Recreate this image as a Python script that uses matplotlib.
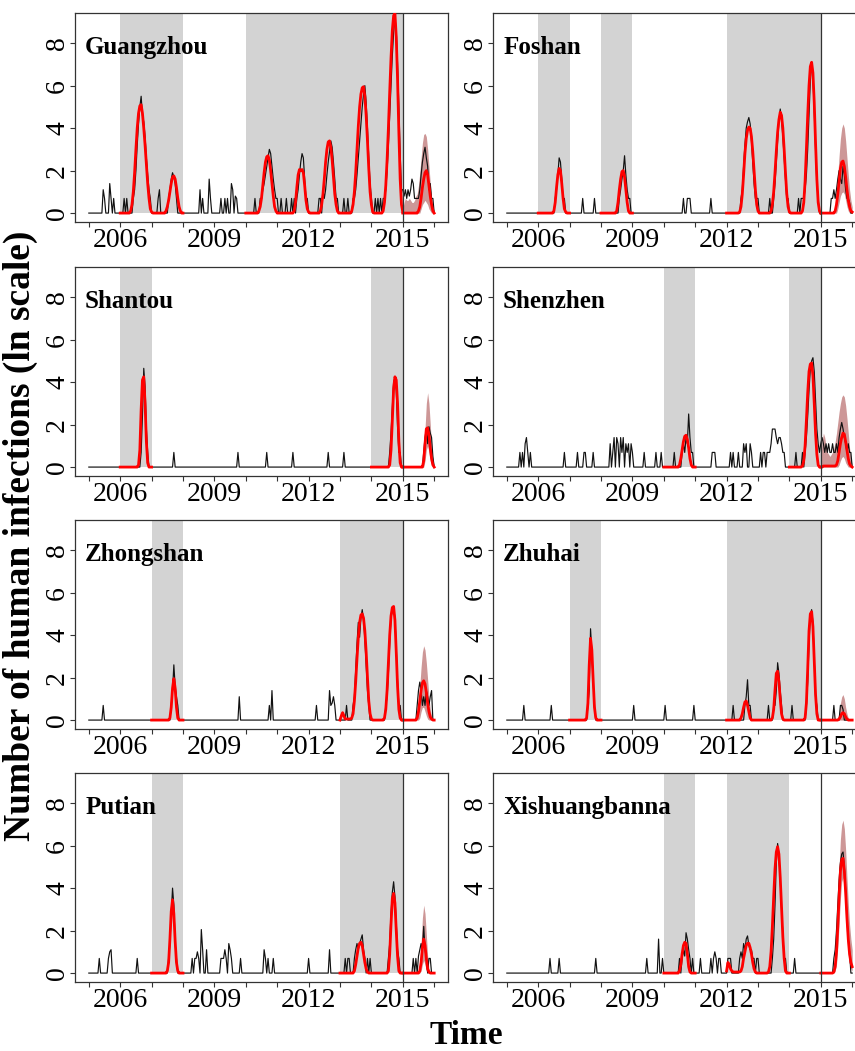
import numpy as np
import matplotlib.pyplot as plt

plt.rcParams['font.family'] = ['Liberation Serif', 'DejaVu Serif']

cities = ['Guangzhou', 'Foshan', 'Shantou', 'Shenzhen',
          'Zhongshan', 'Zhuhai', 'Putian', 'Xishuangbanna']

# half-month time grid, observed series runs from 2005 to 2016
t = 2005 + np.arange(265) / 24
t_fc = 2015 + np.arange(25) / 24

# shaded periods (used for model fitting)
shade_gz = [(2006, 2008), (2010, 2015)]
shade_fs = [(2006, 2007), (2008, 2009), (2012, 2015)]
shade_st = [(2006, 2007), (2014, 2015)]
shade_sz = [(2010, 2011), (2014, 2015)]
shade_zs = [(2007, 2008), (2013, 2015)]
shade_zh = [(2007, 2008), (2012, 2015)]
shade_pt = [(2007, 2008), (2013, 2015)]
shade_xb = [(2010, 2011), (2012, 2014)]

# observed ln(cases + 1): (start year, consecutive half-month values), zero elsewhere
obs_gz = [
    (2005.46, [1.1, 0.69, 0, 0, 0, 1.39, 0.69, 0, 0.69]),
    (2006.12, [0.69, 0, 0.69]),
    (2006.42, [0.69, 1.1, 2.0, 3.2, 4.2, 5.0, 5.5, 4.6, 4.3, 3.6, 2.6, 1.8, 1.1, 0.69]),
    (2007.21, [0.69, 1.1]),
    (2007.54, [0.69, 1.1, 1.6, 1.9, 1.7, 1.39, 0.69]),
    (2008.54, [1.1, 0, 0.69, 0, 0, 0, 0, 1.6, 0.69]),
    (2009.21, [0.69, 0, 0, 0.69, 0, 0.69, 0, 0, 1.39, 1.1, 0, 0.8, 0.69, 0]),
    (2010.29, [0.69, 0, 0, 0, 0.69, 0.69, 1.1, 1.39, 1.79, 2.2, 2.6, 3.0, 2.8, 2.2, 1.6, 1.1, 0.69, 0.69]),
    (2011.12, [0.69, 0, 0, 0, 0.69, 0, 0, 0, 0.69, 0, 0.69, 0, 0.69, 1.1, 1.79, 2.4, 2.8, 2.6, 1.6, 0.69, 0.69]),
    (2012.33, [0.69, 0.69, 0, 1.1, 0.69, 1.1, 1.79, 2.4, 2.9, 3.4, 3.1, 2.4, 1.6, 0.69, 0.69]),
    (2013.12, [0.69, 0, 0, 0.69, 0, 0, 0, 0.69, 0.69, 1.1, 1.8, 2.6, 3.4, 4.2, 5.0, 5.6, 6.0, 5.2, 4.0, 2.6, 1.39, 0.69]),
    (2014.12, [0.69, 0, 0.69, 0, 0.69, 0, 0.69, 0.69, 1.1, 2.0, 3.2, 4.6, 6.0, 7.4, 8.5, 9.2, 8.6, 7.0, 5.0, 2.8, 1.1, 0.69]),
    (2015.0, [1.1, 0.8, 1.1, 0.69, 1.1, 0.8, 1.1, 1.6, 1.39, 0.69, 0.69, 0.69, 0.69, 1.1, 1.8, 2.4, 2.8, 3.1, 2.6, 2.2, 1.1, 1.39, 0.69, 0.69]),
]
obs_fs = [
    (2006.54, [0.69, 1.1, 1.8, 2.6, 2.4, 1.6, 0.69, 0.69]),
    (2007.4, [0.69]),
    (2007.81, [0.69]),
    (2008.58, [0.69, 1.1, 1.6, 2.0, 2.7, 1.8, 1.1, 0.69, 0.69]),
    (2010.62, [0.69, 0, 0, 0.69, 0.69, 0.69]),
    (2011.5, [0.69]),
    (2012.46, [0.69, 1.1, 2.2, 3.2, 4.0, 4.3, 4.5, 4.2, 3.4, 2.4, 1.39, 0.69, 0.69, 0.69]),
    (2013.38, [0.69, 0, 0, 0.69, 1.39, 2.4, 3.4, 4.3, 4.9, 4.4, 3.6, 2.6, 1.6, 0.69, 0.69]),
    (2014.29, [0.69, 0, 0.69]),
    (2014.42, [0.69, 0.69, 1.1, 1.8, 3.0, 4.6, 6.2, 7.1, 6.4, 4.8, 3.0, 1.39, 0.69]),
    (2015.33, [0.69, 0.69, 1.1, 0.69, 1.1, 1.6, 2.0, 1.6, 1.39, 2.2, 1.8, 1.1, 0.69, 0.69, 0.5]),
]
obs_st = [
    (2006.67, [0.69, 2.4, 4.65, 3.8, 1.8, 0.69]),
    (2007.71, [0.69]),
    (2009.75, [0.69]),
    (2010.67, [0.69]),
    (2011.48, [0.69]),
    (2012.64, [0.69]),
    (2013.14, [0.69]),
    (2014.58, [0.69, 1.6, 2.8, 4.0, 4.2, 3.6, 1.9, 0.69, 0.69]),
    (2015.67, [0.69, 1.39, 1.8, 1.1, 1.9, 1.6, 1.39, 0.5]),
]
obs_sz = [
    (2005.42, [0.69, 0, 0.69, 0, 1.1, 1.39, 0.69, 0, 0.69]),
    (2006.83, [0.69]),
    (2007.25, [0.69]),
    (2007.46, [0.69, 0.69]),
    (2007.75, [0.69]),
    (2008.29, [1.1, 0, 0.69, 1.39, 0, 1.39, 1.1, 0, 1.39, 0.69, 1.39, 0, 1.1, 0.69, 1.1, 0, 1.1, 0.69]),
    (2009.38, [0.69]),
    (2009.77, [0.69]),
    (2009.9, [0.69]),
    (2010.33, [0.69]),
    (2010.58, [0.69, 1.1, 0.69, 1.39, 1.1, 2.5, 1.39, 0.69, 0.69]),
    (2011.54, [0.69, 0.69, 0.69]),
    (2012.12, [0.69]),
    (2012.21, [0.69]),
    (2012.38, [0.69]),
    (2012.54, [1.1, 0.69, 1.1, 0, 0, 1.1, 0.69]),
    (2013.08, [0.69, 0, 0.69, 0.69, 0, 0.69, 0.69, 0.69, 1.1, 1.79, 1.79, 1.79, 1.39, 1.1, 1.39, 1.39, 1.1, 0.69, 0.69]),
    (2014.21, [0.69]),
    (2014.42, [0.69]),
    (2014.5, [0.69, 1.39, 2.4, 3.6, 4.6, 5.0, 5.15, 4.5, 3.2, 1.8, 1.1, 0.69]),
    (2015.0, [1.1, 1.39, 1.1, 0.69, 1.1, 0.69, 1.1, 0.69, 0.69, 1.1, 0.69, 0.69, 1.1, 0.69, 1.39, 1.79, 2.1, 1.8, 1.39, 1.1, 0.69, 1.1, 0.69, 0.69]),
]
obs_zs = [
    (2005.46, [0.69]),
    (2007.62, [0.69, 1.39, 2.6, 1.6, 1.1, 0.69]),
    (2009.79, [1.1]),
    (2010.75, [0.69, 0, 1.39]),
    (2012.23, [0.69]),
    (2012.67, [1.39, 0.69, 0.8, 1.1, 0.69]),
    (2013.21, [0.69]),
    (2013.42, [0.69, 1.1, 2.4, 3.6, 4.6, 3.9, 4.8, 5.2, 4.7, 3.8, 2.6, 1.39, 0.69]),
    (2014.46, [0.69, 1.1, 2.2, 3.6, 4.8, 5.2, 5.3, 4.8, 3.4, 1.8, 0.69, 0.69]),
    (2015.46, [0.69, 1.39, 1.79, 1.39, 0.69, 1.1, 0.69, 1.39, 1.1, 0.69, 1.1, 1.39]),
]
obs_zh = [
    (2005.54, [0.69]),
    (2006.42, [0.69]),
    (2007.58, [0.69, 1.39, 4.3, 3.2, 1.8, 0.69]),
    (2009.04, [0.69]),
    (2010.04, [0.69]),
    (2010.96, [0.69]),
    (2012.21, [0.69]),
    (2012.58, [0.69, 1.1, 1.9, 0.69, 0.69]),
    (2013.33, [0.69]),
    (2013.5, [0.69, 0.69, 1.39, 2.7, 2.2, 1.39, 0.69]),
    (2014.08, [0.69]),
    (2014.54, [0.69, 1.79, 3.6, 4.9, 5.2, 4.6, 2.8, 1.1, 0.69]),
    (2015.42, [0.69, 0, 0, 0, 0, 0.69, 0.69, 0.5]),
]
obs_pt = [
    (2005.33, [0.69]),
    (2005.62, [0.69, 1.0, 1.1]),
    (2006.54, [0.69]),
    (2007.54, [0.69, 1.39, 2.8, 4.0, 3.2, 1.39, 0.69]),
    (2008.29, [0.69, 0, 0.69, 0.69, 1.0, 0.69, 0, 2.05, 1.1, 0, 0, 1.1]),
    (2009.21, [0.69, 0.69, 0.69, 1.1, 0.69, 0, 1.39, 1.1, 0.69, 0, 0, 0, 0, 0, 0, 0.69]),
    (2010.58, [1.1, 0.69, 0, 0.69, 0, 0, 0, 0.69]),
    (2011.99, [0.69]),
    (2012.67, [1.1]),
    (2013.17, [0.69, 0, 0.69, 0.69, 0, 0, 0, 0.69, 1.1, 1.39, 1.1, 1.39, 1.6, 1.8, 1.1, 0.69, 0, 0.69, 0, 0.69]),
    (2014.54, [0.69, 1.39, 2.8, 3.8, 4.3, 3.6, 2.4, 1.1, 0.69]),
    (2015.33, [0.69, 0, 0.69, 0, 0.8, 1.1, 1.39, 1.1, 2.2, 1.1, 0.69, 0, 0.69, 0.69]),
]
obs_xb = [
    (2006.38, [0.69]),
    (2006.67, [0.69]),
    (2007.83, [0.69]),
    (2009.46, [0.69]),
    (2009.83, [1.6]),
    (2009.96, [0.69]),
    (2010.5, [0.69, 0, 0.69, 1.1, 0.8, 1.9, 1.6, 1.1, 0.69]),
    (2010.92, [0.69]),
    (2011.17, [0.69]),
    (2011.5, [0.69, 0, 0.69, 1.0, 0.69, 0, 0.69, 0.69]),
    (2012.04, [0.69, 0.69, 0.69, 0, 0, 0, 0, 0, 0, 0.69, 1.0, 0.69, 1.39, 1.1, 1.6, 1.75, 1.3, 1.1, 1.1, 0.69, 0.69, 0, 0.69, 0.69]),
    (2013.46, [0.69, 1.6, 3.2, 5.2, 6.1, 5.6, 4.4, 3.0, 1.8, 0.69, 0.69]),
    (2014.17, [0.69]),
    (2015.42, [0.69, 1.1, 2.0, 3.2, 4.4, 5.2, 5.6, 5.7, 5.0, 3.9, 2.6, 1.6, 1.0]),
]

# fitted model inside the shaded periods: (start year, half-month values), ~0 elsewhere
fit_gz = [
    (2006.33, [0.1, 0.4, 1.0, 1.9, 3.0, 4.0, 4.7, 5.05, 5.1, 4.7, 4.0, 3.2, 2.3, 1.4, 0.7, 0.2, 0.05]),
    (2007.46, [0.1, 0.3, 0.6, 1.0, 1.4, 1.7, 1.75, 1.6, 1.2, 0.7, 0.3, 0.1]),
    (2010.42, [0.1, 0.3, 0.7, 1.3, 1.9, 2.4, 2.65, 2.7, 2.5, 2.0, 1.4, 0.8, 0.3, 0.1]),
    (2011.54, [0.1, 0.5, 1.2, 1.8, 2.05, 2.0, 2.05, 1.9, 1.3, 0.6, 0.2, 0.05]),
    (2012.38, [0.1, 0.4, 0.9, 1.6, 2.4, 3.0, 3.35, 3.4, 3.1, 2.5, 1.7, 0.9, 0.4, 0.1]),
    (2013.38, [0.1, 0.4, 1.0, 1.9, 3.0, 4.1, 5.0, 5.6, 5.9, 5.95, 5.5, 4.6, 3.4, 2.1, 1.0, 0.4, 0.05]),
    (2014.38, [0.1, 0.5, 1.3, 2.5, 4.0, 5.7, 7.3, 8.6, 9.3, 9.4, 8.3, 6.3, 3.8, 1.6, 0.4, 0.05]),
]
fit_fs = [
    (2006.5, [0.1, 0.5, 1.2, 1.8, 2.1, 2.0, 1.4, 0.7, 0.2, 0.05]),
    (2008.5, [0.1, 0.5, 1.1, 1.6, 1.95, 2.0, 1.7, 1.1, 0.5, 0.1, 0.0]),
    (2012.42, [0.05, 0.3, 0.9, 1.8, 2.8, 3.5, 3.9, 4.05, 4.0, 3.6, 2.9, 2.0, 1.1, 0.4, 0.1, 0.0]),
    (2013.42, [0.1, 0.4, 1.0, 1.9, 2.9, 3.8, 4.4, 4.75, 4.6, 4.0, 3.0, 1.9, 0.9, 0.3, 0.05]),
    (2014.42, [0.1, 0.5, 1.5, 3.0, 4.6, 6.0, 6.9, 7.1, 6.6, 5.2, 3.3, 1.6, 0.5, 0.1]),
]
fit_st = [
    (2006.58, [0.1, 0.8, 2.7, 4.1, 4.25, 3.0, 1.2, 0.2, 0.0]),
    (2014.58, [0.1, 0.8, 2.2, 3.7, 4.25, 4.1, 3.0, 1.2, 0.2, 0.0]),
]
fit_sz = [
    (2010.5, [0.1, 0.4, 0.8, 1.2, 1.45, 1.5, 1.3, 0.9, 0.4, 0.1, 0.0]),
    (2014.42, [0.05, 0.3, 1.0, 2.2, 3.5, 4.5, 4.85, 4.9, 4.3, 3.0, 1.6, 0.6, 0.1, 0.0]),
]
fit_zs = [
    (2007.58, [0.1, 0.6, 1.5, 1.95, 1.5, 0.6, 0.1, 0.0]),
    (2013.04, [0.2, 0.35, 0.2, 0.05, 0.05, 0.05, 0.05, 0.05, 0.1, 0.3, 0.9, 1.8, 2.9, 3.9, 4.6, 4.95,
               5.0, 4.8, 4.2, 3.2, 2.0, 0.9, 0.3, 0.05]),
    (2014.42, [0.1, 0.5, 1.4, 2.7, 4.0, 4.9, 5.3, 5.35, 4.7, 3.2, 1.6, 0.5, 0.1, 0.0]),
]
fit_zh = [
    (2007.54, [0.1, 0.8, 2.6, 3.85, 3.3, 1.9, 0.6, 0.1, 0.0]),
    (2012.46, [0.1, 0.3, 0.6, 0.85, 0.9, 0.7, 0.4, 0.1, 0.0]),
    (2013.46, [0.1, 0.5, 1.4, 2.2, 2.3, 1.8, 1.0, 0.3, 0.05]),
    (2014.5, [0.1, 0.8, 2.4, 4.2, 5.0, 5.1, 4.4, 2.8, 1.2, 0.3, 0.0]),
]
fit_pt = [
    (2007.5, [0.1, 0.5, 1.6, 2.9, 3.45, 2.8, 1.5, 0.5, 0.1, 0.0]),
    (2013.46, [0.1, 0.4, 0.8, 1.2, 1.4, 1.45, 1.3, 0.9, 0.5, 0.2, 0.05, 0.0]),
    (2014.54, [0.1, 0.9, 2.3, 3.5, 3.75, 3.3, 2.0, 0.8, 0.1, 0.0]),
]
fit_xb = [
    (2010.5, [0.1, 0.4, 0.9, 1.3, 1.45, 1.4, 0.9, 0.3, 0.05]),
    (2012.0, [0.1, 0.5, 0.4, 0.2, 0.1, 0.05, 0.05, 0.05, 0.05, 0.05, 0.05, 0.1, 0.3, 0.7, 1.0, 1.3,
              1.4, 1.4, 1.2, 0.9, 0.5, 0.2, 0.05, 0.0]),
    (2013.33, [0.05, 0.3, 1.0, 2.2, 3.6, 4.9, 5.7, 5.95, 5.6, 4.5, 3.1, 1.7, 0.7, 0.1, 0.0]),
]

# 2015 prediction: median, lower and upper bound (half-month steps 2015.0 .. 2016.0)
fc_mid_gz = [0, 0, 0, 0, 0, 0, 0, 0, 0, 0, 0, 0, 0.1, 0.3, 0.7, 1.2, 1.6, 1.9, 2.0, 1.8, 1.3, 0.8, 0.4, 0.1, 0.0]
fc_lo_gz = [0, 0, 0, 0, 0, 0, 0, 0, 0, 0, 0, 0, 0, 0, 0.2, 0.4, 0.5, 0.6, 0.5, 0.4, 0.2, 0.1, 0, 0, 0]
fc_hi_gz = [0.2, 0.5, 0.7, 0.6, 0.6, 0.7, 0.6, 0.5, 0.5, 0.6, 0.8, 0.9, 1.3, 1.9, 2.6, 3.3, 3.7, 3.75, 3.6, 3.0, 2.2, 1.4, 0.7, 0.3, 0.1]

fc_mid_fs = [0, 0, 0, 0, 0, 0, 0, 0, 0, 0, 0, 0.1, 0.4, 0.9, 1.5, 2.1, 2.4, 2.45, 2.2, 1.7, 1.1, 0.6, 0.3, 0.1, 0.05]
fc_lo_fs = [0, 0, 0, 0, 0, 0, 0, 0, 0, 0, 0, 0, 0, 0.2, 0.5, 0.8, 0.95, 1.0, 0.9, 0.6, 0.3, 0.1, 0, 0, 0]
fc_hi_fs = [0, 0, 0, 0, 0, 0, 0, 0, 0, 0, 0.1, 0.4, 1.0, 1.8, 2.7, 3.5, 4.0, 4.2, 4.0, 3.4, 2.6, 1.8, 1.1, 0.6, 0.3]

fc_mid_st = [0, 0, 0, 0, 0, 0, 0, 0, 0, 0, 0, 0, 0, 0, 0, 0, 0.3, 1.1, 1.8, 1.85, 1.5, 0.9, 0.4, 0.1, 0.0]
fc_lo_st = [0, 0, 0, 0, 0, 0, 0, 0, 0, 0, 0, 0, 0, 0, 0, 0, 0, 0.3, 0.8, 1.0, 0.7, 0.3, 0.1, 0, 0]
fc_hi_st = [0, 0, 0, 0, 0, 0, 0, 0, 0, 0, 0, 0, 0, 0, 0, 0.1, 0.6, 1.8, 3.0, 3.5, 3.0, 2.0, 1.0, 0.4, 0.1]

fc_mid_sz = [0, 0, 0.05, 0.05, 0.05, 0.05, 0.05, 0.05, 0.05, 0.05, 0.05, 0.05, 0.1, 0.3, 0.7, 1.1, 1.4, 1.6, 1.55, 1.2, 0.8, 0.4, 0.15, 0.05, 0]
fc_lo_sz = [0, 0, 0, 0, 0, 0, 0, 0, 0, 0, 0, 0, 0, 0, 0.1, 0.3, 0.45, 0.5, 0.4, 0.2, 0.1, 0, 0, 0, 0]
fc_hi_sz = [0.3, 1.2, 1.6, 1.4, 1.0, 0.7, 0.6, 0.5, 0.6, 0.7, 0.9, 1.2, 1.6, 2.1, 2.6, 3.0, 3.3, 3.4, 3.3, 2.9, 2.3, 1.6, 0.9, 0.4, 0.1]

fc_mid_zs = [0, 0, 0, 0, 0, 0, 0, 0, 0, 0, 0, 0.1, 0.4, 0.9, 1.4, 1.75, 1.85, 1.7, 1.3, 0.8, 0.4, 0.15, 0.05, 0, 0]
fc_lo_zs = [0, 0, 0, 0, 0, 0, 0, 0, 0, 0, 0, 0, 0, 0.1, 0.4, 0.6, 0.6, 0.4, 0.2, 0.05, 0, 0, 0, 0, 0]
fc_hi_zs = [0, 0, 0, 0, 0, 0, 0, 0, 0, 0, 0, 0.2, 0.8, 1.6, 2.5, 3.2, 3.5, 3.3, 2.7, 1.9, 1.1, 0.5, 0.2, 0.05, 0]

fc_mid_zh = [0, 0, 0, 0, 0, 0, 0, 0, 0, 0, 0, 0, 0, 0, 0.05, 0.15, 0.3, 0.35, 0.3, 0.15, 0.05, 0, 0, 0, 0]
fc_lo_zh = [0] * 25
fc_hi_zh = [0, 0, 0, 0, 0, 0, 0, 0, 0, 0, 0, 0, 0, 0.1, 0.4, 0.8, 1.1, 1.2, 1.0, 0.6, 0.3, 0.1, 0.05, 0, 0]

fc_mid_pt = [0, 0, 0, 0, 0, 0, 0, 0, 0, 0, 0, 0, 0, 0.1, 0.5, 1.2, 1.6, 1.3, 0.7, 0.2, 0.05, 0, 0, 0, 0]
fc_lo_pt = [0, 0, 0, 0, 0, 0, 0, 0, 0, 0, 0, 0, 0, 0, 0.1, 0.4, 0.6, 0.4, 0.1, 0, 0, 0, 0, 0, 0]
fc_hi_pt = [0, 0, 0, 0, 0, 0, 0, 0, 0, 0, 0, 0, 0, 0.4, 1.4, 2.6, 3.2, 2.8, 1.8, 0.8, 0.2, 0.05, 0, 0, 0]

fc_mid_xb = [0, 0, 0, 0, 0, 0, 0, 0, 0, 0, 0.05, 0.3, 1.0, 2.2, 3.6, 4.8, 5.35, 5.4, 4.8, 3.8, 2.6, 1.6, 0.9, 0.5, 0.3]
fc_lo_xb = [0, 0, 0, 0, 0, 0, 0, 0, 0, 0, 0, 0.1, 0.4, 1.2, 2.3, 3.5, 4.3, 4.5, 3.8, 2.6, 1.6, 0.9, 0.4, 0.2, 0.1]
fc_hi_xb = [0, 0, 0, 0, 0, 0, 0, 0, 0, 0, 0.1, 0.6, 1.8, 3.4, 5.0, 6.3, 7.0, 7.2, 6.8, 5.8, 4.5, 3.3, 2.3, 1.6, 1.1]

panels = [
    (shade_gz, obs_gz, fit_gz, fc_mid_gz, fc_lo_gz, fc_hi_gz),
    (shade_fs, obs_fs, fit_fs, fc_mid_fs, fc_lo_fs, fc_hi_fs),
    (shade_st, obs_st, fit_st, fc_mid_st, fc_lo_st, fc_hi_st),
    (shade_sz, obs_sz, fit_sz, fc_mid_sz, fc_lo_sz, fc_hi_sz),
    (shade_zs, obs_zs, fit_zs, fc_mid_zs, fc_lo_zs, fc_hi_zs),
    (shade_zh, obs_zh, fit_zh, fc_mid_zh, fc_lo_zh, fc_hi_zh),
    (shade_pt, obs_pt, fit_pt, fc_mid_pt, fc_lo_pt, fc_hi_pt),
    (shade_xb, obs_xb, fit_xb, fc_mid_xb, fc_lo_xb, fc_hi_xb),
]


def idx(year):
    return int(round((year - 2005) * 24))


def on_grid(runs):
    y = np.zeros(len(t))
    for start, vals in runs:
        k = idx(start)
        n = min(len(vals), len(t) - k)
        y[k:k + n] = vals[:n]
    return y


W, H = 855, 1051
fig = plt.figure(figsize=(W / 100, H / 100), dpi=100)

col_left = [75, 493]
row_top = [13, 267, 520, 773]
ax_w, ax_h = 373, 209

for i, (name, p) in enumerate(zip(cities, panels)):
    shade, obs, fit, fc_mid, fc_lo, fc_hi = p
    r, c = divmod(i, 2)
    ax = fig.add_axes([col_left[c] / W, 1 - (row_top[r] + ax_h) / H, ax_w / W, ax_h / H])

    for s, e in shade:
        ax.fill_between([s, e], 0, 20, color='#d3d3d3', lw=0, zorder=0)

    y_obs = on_grid(obs)
    y_fit = on_grid(fit)

    ax.fill_between(t_fc, fc_lo, fc_hi, color='#b25f5f', alpha=0.65, lw=0, zorder=1)
    ax.plot(t, y_obs, color='#111111', lw=0.85, zorder=2)
    for s, e in shade:
        ax.plot(t[idx(s):idx(e) + 1], y_fit[idx(s):idx(e) + 1], color='red', lw=2.0, zorder=3)
    ax.plot(t_fc, fc_mid, color='red', lw=2.0, zorder=3)
    ax.axvline(2015, color='#333333', lw=0.9, zorder=4)

    ax.set_xlim(2004.56, 2016.44)
    ax.set_ylim(-0.42, 9.42)
    ax.set_xticks([2006, 2009, 2012, 2015])
    ax.set_xticks(range(2005, 2017), minor=True)
    ax.set_yticks([0, 2, 4, 6, 8])
    ax.set_yticklabels(['0', '2', '4', '6', '8'], rotation=90, va='center')
    ax.tick_params(which='both', direction='out', length=3.5, width=0.8, color='#333333')
    ax.tick_params(axis='x', labelsize=20, pad=1)
    ax.tick_params(axis='y', labelsize=20, pad=0)
    for sp in ax.spines.values():
        sp.set_color('#333333')
        sp.set_linewidth(0.9)

    ax.text(0.027, 0.835, name, transform=ax.transAxes, fontsize=18,
            fontweight='bold', va='center', ha='left', zorder=5)

fig.text(466 / W, 1 - 1036 / H, 'Time', fontsize=24, fontweight='bold',
         ha='center', va='center')
fig.text(20 / W, 1 - 536 / H, 'Number of human infections (ln scale)', fontsize=27,
         fontweight='bold', rotation=90, ha='center', va='center')

plt.savefig('out.png', dpi=100)
